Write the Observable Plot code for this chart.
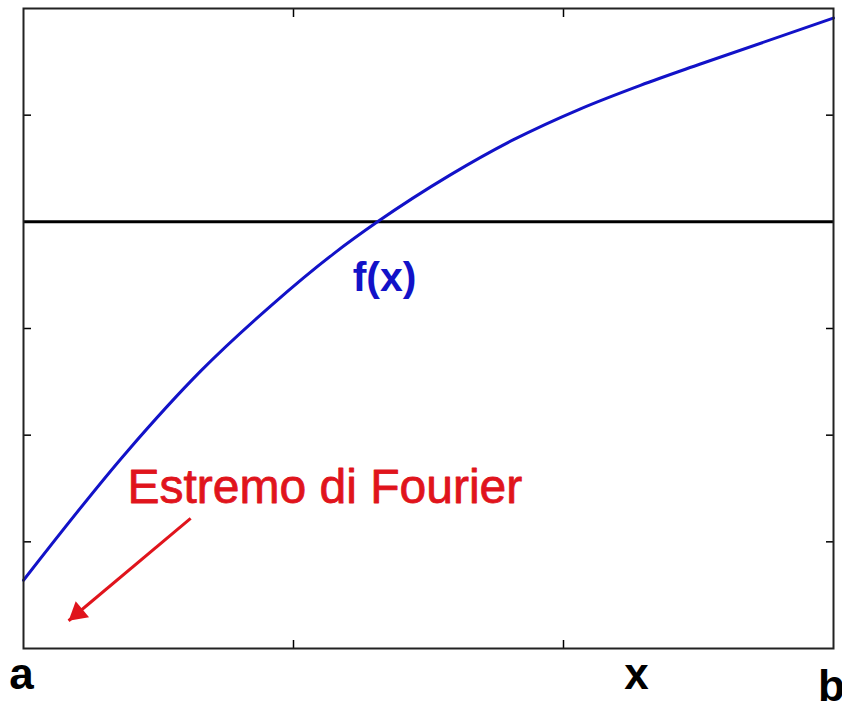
<!DOCTYPE html>
<html>
<head>
<meta charset="utf-8">
<script src="https://cdn.jsdelivr.net/npm/d3@7"></script>
<script src="https://cdn.jsdelivr.net/npm/@observablehq/plot@0.6"></script>
<style>
  html, body { margin: 0; padding: 0; background: #fff; }
  #chart svg { display: block; }
</style>
</head>
<body>
<div id="chart"></div>
<script>
// Curve f(x)
const curveX = [0, 0.385, 0.656, 0.915, 1.148, 1.311, 1.581, 1.815, 2.063, 2.285, 2.507, 3.0];
const curveY = [-3.36, -2.15, -1.40, -0.79, -0.30, 0, 0.44, 0.77, 1.06, 1.28, 1.48, 1.91];

const xTicks = [1, 2];
const yTicks = [-3, -2, -1, 0, 1];
const zeroLine = [0];

// Labels
const endLabels = [
  {x: 0, y: -4.375, text: "a"},
  {x: 2.278, y: -4.375, text: "x"},
  {x: 3.0, y: -4.49, text: "b"}
];
const curveLabel = [{x: 1.219, y: -0.644, text: "f(x)"}];
const noteLabel = [{x: 0.385, y: -2.64, text: "Estremo di Fourier"}];
const noteArrow = [{x1: 0.619, y1: -2.78, x2: 0.167, y2: -3.74}];

const curve = curveX.map((x, i) => ({x, y: curveY[i]}));

const red = "#e0141c";
const blue = "#1212c8";

const chart = Plot.plot({
  width: 842,
  height: 705,
  marginLeft: 23,
  marginRight: 9,
  marginTop: 8,
  marginBottom: 57,
  style: {background: "#fff", fontFamily: "Liberation Sans, Arial, sans-serif"},
  x: {domain: [0, 3]},
  y: {domain: [-4, 2]},
  marks: [
    Plot.axisX(xTicks, {anchor: "bottom", tickSize: -8, tickFormat: () => "", label: null, strokeWidth: 1.5}),
    Plot.axisX(xTicks, {anchor: "top", tickSize: -8, tickFormat: () => "", label: null, strokeWidth: 1.5}),
    Plot.axisY(yTicks, {anchor: "left", tickSize: -8, tickFormat: () => "", label: null, strokeWidth: 1.5}),
    Plot.axisY(yTicks, {anchor: "right", tickSize: -8, tickFormat: () => "", label: null, strokeWidth: 1.5}),
    Plot.ruleY(zeroLine, {stroke: "black", strokeWidth: 3}),
    Plot.line(curve, {x: "x", y: "y", stroke: blue, strokeWidth: 3, curve: "monotone-x"}),
    Plot.frame({stroke: "#222", strokeWidth: 2}),
    Plot.link(noteArrow, {x1: "x1", y1: "y1", x2: "x2", y2: "y2", stroke: red, strokeWidth: 3}),
    Plot.dot(noteArrow, {x: "x2", y: "y2", symbol: "triangle", r: 7.7, fill: red, stroke: "none", rotate: 230, dx: 9.2, dy: -7.7}),
    Plot.text(noteLabel, {x: "x", y: "y", text: "text", fill: red, stroke: red, strokeWidth: 0.8, fontSize: 48, textAnchor: "start", lineAnchor: "bottom"}),
    Plot.text(curveLabel, {x: "x", y: "y", text: "text", fill: blue, fontSize: 41, fontWeight: "bold", textAnchor: "start", lineAnchor: "bottom"}),
    Plot.text(endLabels, {x: "x", y: "y", text: "text", fill: "black", fontSize: 44, fontWeight: "bold", textAnchor: "middle", lineAnchor: "bottom", dx: -2})
  ]
});
document.getElementById("chart").appendChild(chart);
</script>
</body>
</html>
